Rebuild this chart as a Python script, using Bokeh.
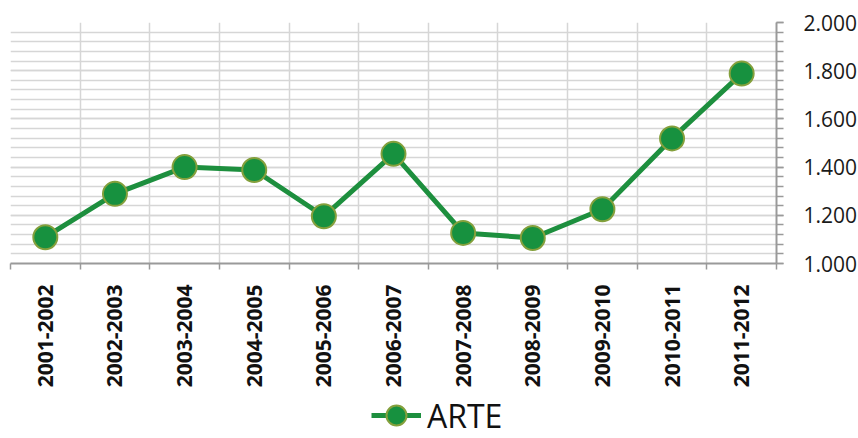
import math
from bokeh.plotting import figure
from bokeh.layouts import column
from bokeh.models import (FactorRange, Range1d, LinearAxis, FixedTicker,
                          SingleIntervalTicker, Grid, Legend, LegendItem, CustomJSTickFormatter)
from bokeh.embed import file_html
from bokeh.resources import INLINE

# ---- data ----
seasons = ["2001-2002", "2002-2003", "2003-2004", "2004-2005", "2005-2006", "2006-2007",
           "2007-2008", "2008-2009", "2009-2010", "2010-2011", "2011-2012"]
arte = [1109, 1289, 1400, 1388, 1196, 1455, 1127, 1106, 1225, 1519, 1788]
series_name = "ARTE"
y_min, y_max = 1000, 2000
y_major_step = 200
y_minor_per_major = 5

FONT = "Open Sans"
GRID = "#d6d6d6"
AXIS = "#9a9a9a"
LINE_STYLE = dict(line_color="#1d8f3e", line_width=5, line_join="round")
MARK_STYLE = dict(fill_color="#17913f", line_color="#84a03c", line_width=2)

p = figure(x_range=FactorRange(factors=seasons), y_range=Range1d(y_min, y_max),
           frame_width=766, frame_height=241,
           output_backend="svg", toolbar_location=None,
           x_axis_location=None, y_axis_location=None,
           min_border_left=10, min_border_top=22, min_border_right=0, min_border_bottom=0)
p.outline_line_color = None
p.background_fill_color = "white"
p.border_fill_color = "white"
p.center = []

# factor range synthetic coordinates: boundaries 0..n, centres at i + 0.5
n = len(seasons)
bounds = list(range(n + 1))
centres = [i + 0.5 for i in range(n)]

yticker = SingleIntervalTicker(interval=y_major_step, num_minor_ticks=y_minor_per_major)

# grids
p.add_layout(Grid(dimension=1, ticker=yticker, grid_line_color=GRID, grid_line_width=1.5,
                  minor_grid_line_color=GRID, minor_grid_line_width=1.5))
p.add_layout(Grid(dimension=0, ticker=FixedTicker(ticks=bounds),
                  grid_line_color=GRID, grid_line_width=1.5))

# series
p.line(x=seasons, y=arte, **LINE_STYLE)
p.scatter(x=seasons, y=arte, size=24, **MARK_STYLE)

# right y axis
yaxis = LinearAxis(ticker=yticker,
                   formatter=CustomJSTickFormatter(code=r"return tick.toFixed(0).replace(/\B(?=(\d{3})+(?!\d))/g, '.');"),
                   axis_line_color=AXIS, axis_line_width=2,
                   major_tick_out=7, major_tick_in=0, minor_tick_out=7, minor_tick_in=0,
                   major_tick_line_color=AXIS, minor_tick_line_color=AXIS,
                   major_tick_line_width=1.5, minor_tick_line_width=1.5,
                   major_label_standoff=20,
                   major_label_text_font=FONT, major_label_text_font_size="21px",
                   major_label_text_color="#1a1a1a")
p.add_layout(yaxis, "right")

# bottom axis: labels at category centres, tick marks at category boundaries
xaxis = LinearAxis(ticker=FixedTicker(ticks=centres, minor_ticks=bounds),
                   formatter=CustomJSTickFormatter(args=dict(labels=seasons),
                                                   code="return labels[Math.floor(tick)];"),
                   axis_line_color=AXIS, axis_line_width=2,
                   major_tick_out=0, major_tick_in=0, major_tick_line_color=None,
                   minor_tick_out=6, minor_tick_in=0, minor_tick_line_color=AXIS,
                   minor_tick_line_width=1.5,
                   major_label_orientation=math.pi / 2,
                   major_label_standoff=15,
                   major_label_text_font=FONT, major_label_text_font_size="21px",
                   major_label_text_font_style="bold",
                   major_label_text_color="#111111")
p.add_layout(xaxis, "below")

# legend strip (separate small figure under the chart); its renderers hold the
# series' first point, which lies outside the strip's own range and is not shown
leg = figure(x_range=Range1d(0, 1), y_range=Range1d(0, 1),
             frame_width=842, frame_height=50,
             output_backend="svg", toolbar_location=None,
             x_axis_location=None, y_axis_location=None,
             min_border_left=0, min_border_right=0, min_border_top=0, min_border_bottom=0)
leg.outline_line_color = None
leg.background_fill_color = "white"
leg.border_fill_color = "white"
leg.center = []
leg_line = leg.line(x=arte[:1], y=arte[:1], **LINE_STYLE)
leg_mark = leg.scatter(x=arte[:1], y=arte[:1], size=24, **MARK_STYLE)
legend = Legend(items=[LegendItem(label=series_name, renderers=[leg_line, leg_mark])],
                location=(371, 0), orientation="horizontal",
                padding=0, margin=0, spacing=0,
                border_line_color=None, background_fill_alpha=0,
                glyph_width=50, glyph_height=50, label_standoff=6,
                label_text_font=FONT, label_text_font_size="32px",
                label_text_color="#111111")
leg.add_layout(legend, "center")

layout = column(p, leg, spacing=0)
open("out.html", "w").write(file_html(layout, INLINE))
